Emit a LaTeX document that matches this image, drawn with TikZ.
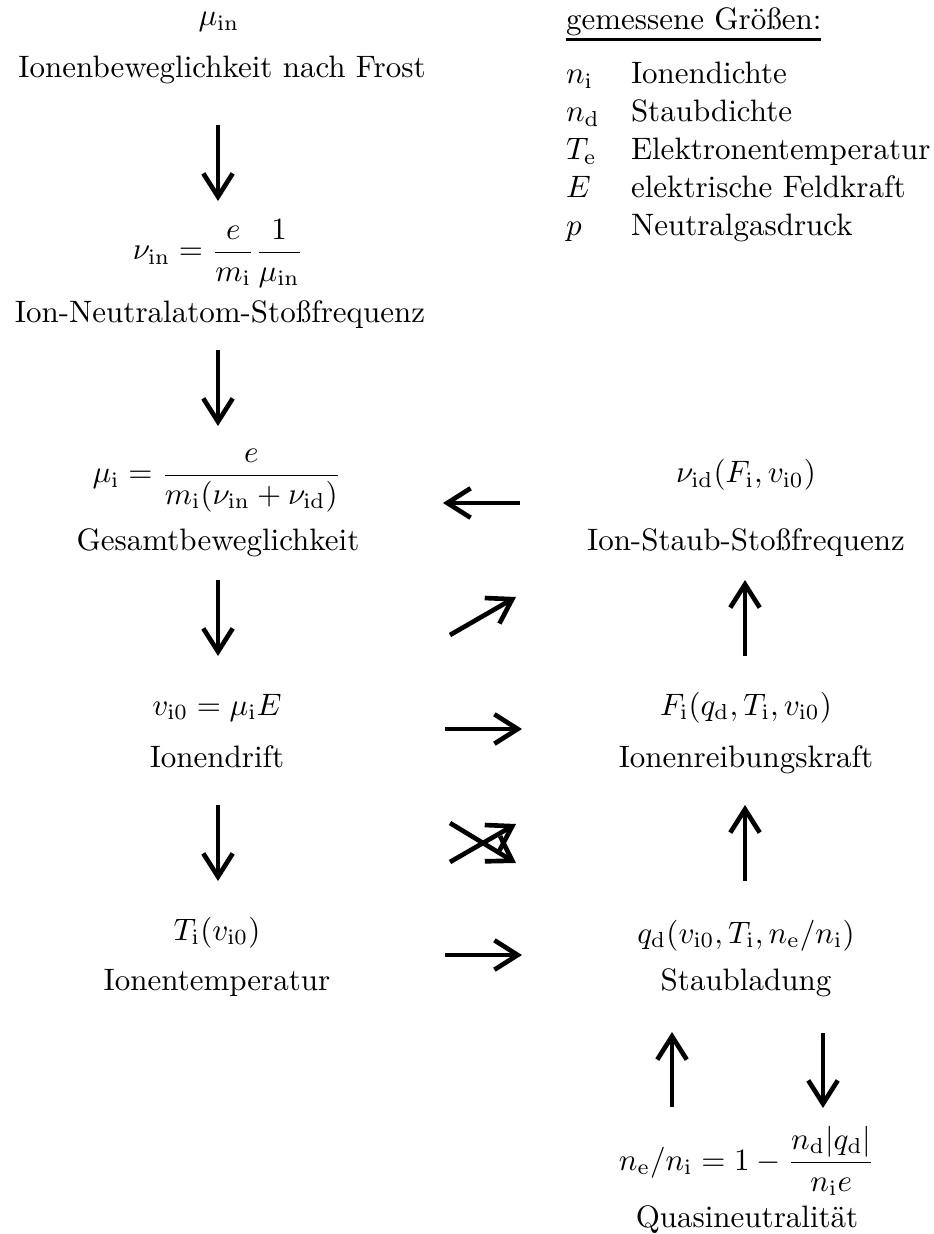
\documentclass[tikz,border=0pt]{standalone}
\usepackage{amsmath}
\usetikzlibrary{arrows.meta}
\begin{document}
\begin{tikzpicture}[x=0.3226pt,y=-0.3226pt,
  lbl/.style={anchor=base,inner sep=0pt,outer sep=0pt},
  leg/.style={anchor=base west,inner sep=0pt,outer sep=0pt},
  arr/.style={line width=1.5pt,-{Straight Barb[length=7.5pt,width=9.5pt,line width=1.5pt]}}]
\useasboundingbox (0,0) rectangle (934,1234);
% left column
\node[lbl] (muin) at (219,26) {$\mu_{\mathrm{in}}$};
\node[lbl] (frost) at (222,78) {Ionenbeweglichkeit nach Frost};
\node[lbl] (nuin) at (218,260) {$\displaystyle \nu_{\mathrm{in}}=\frac{e}{m_{\mathrm{i}}}\frac{1}{\mu_{\mathrm{in}}}$};
\node[lbl] (nuinL) at (220,323) {Ion-Neutralatom-Stoßfrequenz};
\node[lbl] (mui) at (217,483) {$\displaystyle \mu_{\mathrm{i}}=\frac{e}{m_{\mathrm{i}}(\nu_{\mathrm{in}}+\nu_{\mathrm{id}})}$};
\node[lbl] (muiL) at (218,550) {Gesamtbeweglichkeit};
\node[lbl] (vi) at (217,715) {$v_{\mathrm{i0}}=\mu_{\mathrm{i}}E$};
\node[lbl] (viL) at (217,767) {Ionendrift};
\node[lbl] (Ti) at (217,940) {$T_{\mathrm{i}}(v_{\mathrm{i0}})$};
\node[lbl] (TiL) at (217,990) {Ionentemperatur};
% right column
\node[lbl] (nuid) at (746,483) {$\nu_{\mathrm{id}}(F_{\mathrm{i}},v_{\mathrm{i0}})$};
\node[lbl] (nuidL) at (746,550) {Ion-Staub-Stoßfrequenz};
\node[lbl] (Fi) at (746,715) {$F_{\mathrm{i}}(q_{\mathrm{d}},T_{\mathrm{i}},v_{\mathrm{i0}})$};
\node[lbl] (FiL) at (746,767) {Ionenreibungskraft};
\node[lbl] (qd) at (746,943) {$q_{\mathrm{d}}(v_{\mathrm{i0}},T_{\mathrm{i}},n_{\mathrm{e}}/n_{\mathrm{i}})$};
\node[lbl] (qdL) at (746,990) {Staubladung};
\node[lbl] (ne) at (747,1170) {$\displaystyle n_{\mathrm{e}}/n_{\mathrm{i}}=1-\frac{n_{\mathrm{d}}|q_{\mathrm{d}}|}{n_{\mathrm{i}}e}$};
\node[lbl] (neL) at (747,1227) {Quasineutralität};
% legend
\node[leg] (legH) at (566,30) {gemessene Größen:};
\draw[line width=0.8pt] ([yshift=-1pt]legH.south west) -- ([yshift=-1pt]legH.south east);
\node[leg] (s1) at (566,84) {$n_{\mathrm{i}}$};
\node[leg] (t1) at (631,84) {Ionendichte};
\node[leg] (s2) at (566,122) {$n_{\mathrm{d}}$};
\node[leg] (t2) at (631,122) {Staubdichte};
\node[leg] (s3) at (566,160) {$T_{\mathrm{e}}$};
\node[leg] (t3) at (631,160) {Elektronentemperatur};
\node[leg] (s4) at (566,198) {$E$};
\node[leg] (t4) at (631,198) {elektrische Feldkraft};
\node[leg] (s5) at (566,236) {$p$};
\node[leg] (t5) at (631,236) {Neutralgasdruck};
% arrow end points
\coordinate (a1s) at (218,125); \coordinate (a1e) at (218,201);
\coordinate (a2s) at (218,350); \coordinate (a2e) at (218,426);
\coordinate (a3s) at (218,580); \coordinate (a3e) at (218,656);
\coordinate (a4s) at (218,805); \coordinate (a4e) at (218,881);
\coordinate (b1s) at (745,656); \coordinate (b1e) at (745,580);
\coordinate (b2s) at (745,881); \coordinate (b2e) at (745,805);
\coordinate (c1s) at (672,1107); \coordinate (c1e) at (672,1032);
\coordinate (c2s) at (823,1033); \coordinate (c2e) at (823,1108);
\coordinate (h1s) at (520,503); \coordinate (h1e) at (443,503);
\coordinate (h2s) at (450,635); \coordinate (h2e) at (516,597);
\coordinate (h3s) at (445,729); \coordinate (h3e) at (522,729);
\coordinate (h4s) at (450,823); \coordinate (h4e) at (516,863);
\coordinate (h5s) at (450,862); \coordinate (h5e) at (516,824);
\coordinate (h6s) at (445,955); \coordinate (h6e) at (522,955);
\draw[arr] (a1s) -- (a1e);
\draw[arr] (a2s) -- (a2e);
\draw[arr] (a3s) -- (a3e);
\draw[arr] (a4s) -- (a4e);
\draw[arr] (b1s) -- (b1e);
\draw[arr] (b2s) -- (b2e);
\draw[arr] (c1s) -- (c1e);
\draw[arr] (c2s) -- (c2e);
\draw[arr] (h1s) -- (h1e);
\draw[arr] (h2s) -- (h2e);
\draw[arr] (h3s) -- (h3e);
\draw[arr] (h4s) -- (h4e);
\draw[arr] (h5s) -- (h5e);
\draw[arr] (h6s) -- (h6e);
\end{tikzpicture}
\end{document}
